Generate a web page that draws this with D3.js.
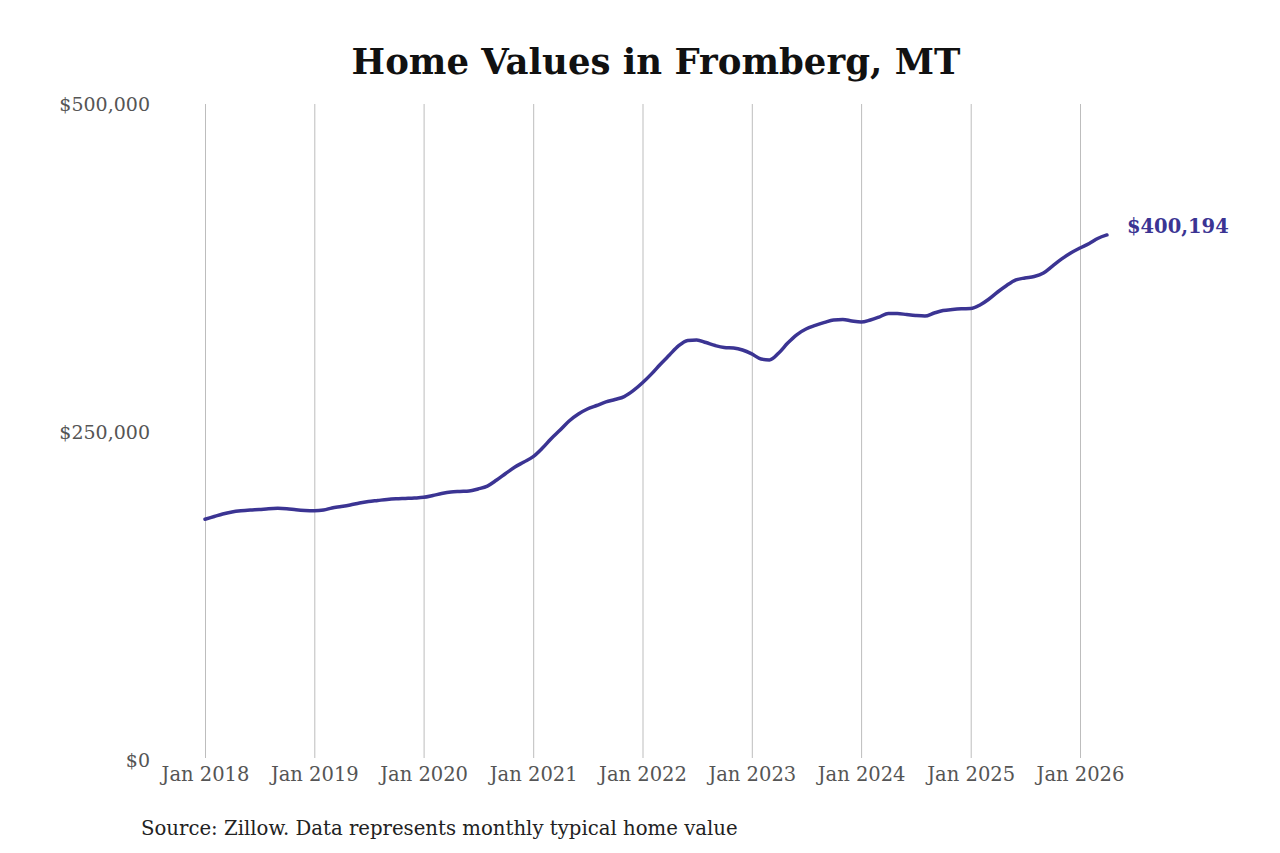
<!DOCTYPE html>
<html>
<head>
<meta charset="utf-8">
<script src="https://cdn.jsdelivr.net/npm/d3@7"></script>
<style>
  body { margin: 0; background: #fff; }
  svg { display: block; font-family: "DejaVu Serif", serif; }
</style>
</head>
<body>
<div class="chart"></div>
<script>
// Monthly typical home value, Jan 2018 - Apr 2026
var startMonth = "2018-01";
var homeValues = [
  183500, 185600, 187500, 189000, 189900, 190500, 190900, 191500, 191800, 191500, 190700, 190200,
  190000, 190500, 192100, 193200, 194400, 195900, 197000, 197800, 198600, 199100, 199400, 199700,
  200200, 201600, 203100, 204300, 204700, 205000, 206600, 208800, 213400, 218400, 223300, 227100,
  231200, 237800, 244700, 251500, 258400, 263700, 267500, 270200, 272900, 274800, 277000, 281500,
  287500, 294500, 301500, 308700, 315600, 319800, 320200, 318200, 315900, 314400, 314000, 312500,
  309500, 305600, 304900, 310200, 317800, 324300, 328500, 331200, 333500, 335400, 335800, 334600,
  333800, 335400, 337600, 340300, 340300, 339500, 338800, 338400, 340700, 342600, 343400, 343900,
  344100, 346800, 351000, 356700, 361700, 365900, 367400, 368500, 371200, 376500, 381900, 386400,
  390200, 393700, 397500, 400194
];
var yTicks = [0, 250000, 500000];
var xTickYears = [2018, 2019, 2020, 2021, 2022, 2023, 2024, 2025, 2026];

var titleText = "Home Values in Fromberg, MT";
var sourceText = "Source: Zillow. Data represents monthly typical home value";

var svgWidth = 1280;
var svgHeight = 853;
var lineColor = "#3b3493";

var parseMonth = d3.timeParse("%Y-%m");
var start = parseMonth(startMonth);
var data = homeValues.map(function(v, i) {
    return { date: d3.timeMonth.offset(start, i), value: v };
});

var svg = d3.select(".chart")
            .append("svg")
            .attr("width", svgWidth)
            .attr("height", svgHeight);

// scales
var xScale = d3.scaleTime()
               .domain([new Date(2018, 0, 1), new Date(2026, 0, 1)])
               .range([205, 1080]);
var yScale = d3.scaleLinear()
               .domain([0, 500000])
               .range([760, 104]);

// title
svg.append("text")
   .attr("x", 656)
   .attr("y", 74)
   .attr("text-anchor", "middle")
   .attr("font-size", 35.5)
   .attr("font-weight", "bold")
   .attr("fill", "#111")
   .text(titleText);

// x axis: vertical gridlines with month labels
var xAxis = d3.axisBottom(xScale)
              .tickValues(xTickYears.map(function(y) { return new Date(y, 0, 1); }))
              .tickFormat(d3.timeFormat("Jan %Y"))
              .tickSize(-(758 - 104))
              .tickPadding(9);

var xg = svg.append("g")
            .attr("transform", "translate(0, 758)")
            .call(xAxis);
xg.select(".domain").remove();
xg.selectAll(".tick line").attr("stroke", "#bdbdbd").attr("stroke-width", 1);
xg.selectAll(".tick text")
  .attr("font-size", 19.5)
  .attr("fill", "#555")
  .attr("font-family", "DejaVu Serif, serif");

// y axis labels only
var yAxis = d3.axisLeft(yScale)
              .tickValues(yTicks)
              .tickFormat(function(d) { return "$" + d3.format(",")(d); })
              .tickSize(0)
              .tickPadding(0);

var yg = svg.append("g")
            .attr("transform", "translate(150, 0)")
            .call(yAxis);
yg.select(".domain").remove();
yg.selectAll(".tick text")
  .attr("font-size", 19)
  .attr("fill", "#555")
  .attr("font-family", "DejaVu Serif, serif");

// the line
var line = d3.line()
             .x(function(d) { return xScale(d.date); })
             .y(function(d) { return yScale(d.value); })
             .curve(d3.curveMonotoneX);

svg.append("path")
   .datum(data)
   .attr("fill", "none")
   .attr("stroke", lineColor)
   .attr("stroke-width", 3.5)
   .attr("stroke-linejoin", "round")
   .attr("stroke-linecap", "round")
   .attr("d", line);

// end label
var last = data[data.length - 1];
svg.append("text")
   .attr("x", xScale(last.date) + 20)
   .attr("y", yScale(last.value) - 9)
   .attr("dy", "0.35em")
   .attr("font-size", 19.5)
   .attr("font-weight", "bold")
   .attr("fill", lineColor)
   .text("$" + d3.format(",")(last.value));

// source note
svg.append("text")
   .attr("x", 141)
   .attr("y", 835)
   .attr("font-size", 19.7)
   .attr("fill", "#222")
   .text(sourceText);
</script>
</body>
</html>
